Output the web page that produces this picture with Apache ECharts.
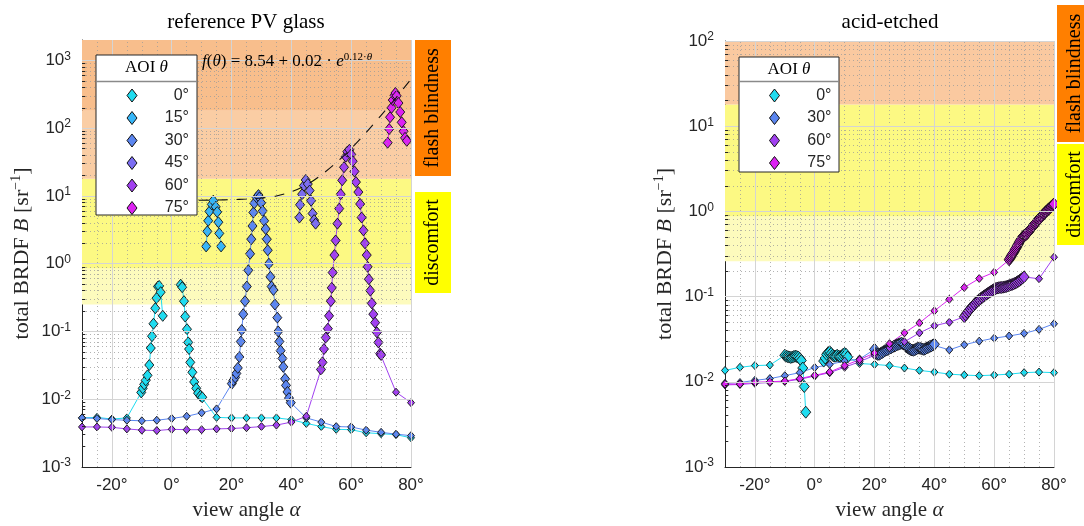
<!DOCTYPE html>
<html>
<head>
<meta charset="utf-8">
<script src="https://cdn.jsdelivr.net/npm/echarts@6/dist/echarts.min.js"></script>
<style>
  html, body { margin: 0; padding: 0; background: #fff; }
  #chart { width: 1084px; height: 526px; }
</style>
</head>
<body>
<div id="chart"></div>
<script>
// ---------------------------------------------------------------------------
// Total BRDF B [1/sr] versus view angle alpha [deg], per angle of incidence.
// "Coarse" = 5-degree survey scan, "Fine" = dense scan around the specular peak.
// A null value marks the blocked region around the source direction.
// ---------------------------------------------------------------------------

// ---- reference PV glass ----
const ref0Coarse = [[-30,5.3e-3],[-25,5.4e-3],[-20,5.1e-3],[-15,5.3e-3],[0,null],[15,5.4e-3],[20,5.3e-3],[25,5.3e-3],[30,5.3e-3],[35,5.3e-3],[40,5.0e-3],[45,4.4e-3],[50,3.95e-3],[55,3.6e-3],[60,3.55e-3],[65,3.2e-3],[70,3.1e-3],[75,3.0e-3],[80,2.7e-3]];
const ref0Fine = [[-10.2,0.0126],[-9.7,0.0145],[-9.2,0.0166],[-8.7,0.019],[-8.1,0.0225],[-7.5,0.032],[-7.0,0.057],[-6.6,0.085],[-6.1,0.13],[-5.5,0.22],[-5.1,0.31],[-4.6,0.46],[-4.2,0.47],[-3.7,0.38],[-3.0,0.17],
                  [3.0,0.49],[3.5,0.45],[4.1,0.28],[4.5,0.166],[5.1,0.108],[5.5,0.069],[5.8,0.055],[6.2,0.035],[6.9,0.025],[7.5,0.018],[8.2,0.0145],[8.8,0.0123],[9.6,0.0112],[10.2,0.0107]];
const ref15Coarse = [];
const ref15Fine = [[11.5,1.8],[11.9,3.0],[12.2,4.3],[12.6,5.9],[13.4,7.5],[13.9,8.5],[14.7,6.9],[15.2,5.8],[15.6,4.1],[15.9,2.8],[16.5,1.8]];
const ref30Coarse = [[-30,5.3e-3],[-25,5.2e-3],[-20,5.0e-3],[-15,4.9e-3],[-10,4.8e-3],[-5,4.9e-3],[0,5.2e-3],[5,5.6e-3],[10,6.3e-3],[15,7.2e-3],[45,5.3e-3],[50,4.6e-3],[55,3.95e-3],[60,3.9e-3],[65,3.5e-3],[70,3.25e-3],[75,3.05e-3],[80,2.9e-3]];
const ref30Fine = [[20.1,0.017],[20.6,0.019],[21.2,0.021],[21.6,0.024],[22.1,0.029],[22.6,0.042],[23.1,0.071],[23.4,0.105],[23.9,0.18],[24.5,0.28],[25.1,0.46],[25.6,0.8],[26.2,1.4],[26.6,2.3],[27.0,3.6],[27.3,5.7],[27.6,7.8],[28.4,9.5],[29.0,10.3],
                   [29.3,9.5],[29.9,7.9],[30.4,6.0],[30.9,4.3],[31.4,3.25],[31.8,2.3],[32.1,1.58],[32.5,1.0],[33.0,0.64],[33.4,0.46],[34.0,0.41],[34.5,0.25],[35.3,0.16],[35.6,0.10],[36.0,0.071],[36.4,0.052],[37.0,0.04],[37.3,0.030],[37.9,0.020],[38.2,0.016],[38.7,0.0128],[39.2,0.0104],[39.8,0.0089]];
const ref45Coarse = [];
const ref45Fine = [[42.7,4.8],[42.9,7.4],[43.6,10.6],[44.2,14.2],[44.8,17.2],[45.5,15.0],[46.1,12.0],[46.6,8.5],[47.1,5.5],[47.6,4.4],[48.1,3.9]];
const ref60Coarse = [[-30,3.9e-3],[-25,3.9e-3],[-20,3.85e-3],[-15,3.65e-3],[-10,3.5e-3],[-5,3.45e-3],[0,3.6e-3],[5,3.55e-3],[10,3.55e-3],[15,3.65e-3],[20,3.7e-3],[25,3.8e-3],[30,3.95e-3],[35,4.15e-3],[40,4.6e-3],[45,5.6e-3],[75,0.0127],[80,0.0089]];
const ref60Fine = [[49.9,0.0275],[50.4,0.035],[50.9,0.055],[51.5,0.081],[52.2,0.11],[52.6,0.17],[53.2,0.28],[53.5,0.44],[53.8,0.74],[54.4,1.34],[54.8,2.2],[55.4,3.9],[56.0,6.5],[56.5,10.6],[57.0,17],[57.6,26.5],[58.2,38],[58.7,45],[59.4,48],
                   [60.0,41],[60.5,32.5],[61.1,23],[61.6,16],[62.4,11.4],[63.0,7.6],[63.5,4.8],[64.1,3.1],[64.6,2.0],[65.2,1.34],[65.5,0.90],[65.9,0.59],[66.4,0.40],[66.9,0.26],[67.4,0.18],[68.0,0.135],[68.6,0.097],[69.1,0.069],[69.7,0.047],[70.0,0.045]];
const ref75Coarse = [];
const ref75Fine = [[72.2,61],[72.7,97],[73.0,145],[73.5,200],[73.9,260],[74.5,305],[74.8,330],[75.2,300],[75.8,235],[76.4,173],[76.9,122],[77.5,90],[78.0,72],[78.6,65]];

// peak-value fit f(theta) = 8.54 + 0.02 * exp(0.12 * theta), as drawn
const fitAngles = [9, 15, 20, 25, 30, 35, 40, 45, 50, 55, 60, 65, 70, 75, 80];
const fitValues = [8.65, 8.7, 8.8, 9.0, 9.3, 10.0, 11.5, 14.5, 20.4, 31, 50, 86, 155, 280, 530];

// ---- acid-etched glass ----
const ae0Coarse = [[-30,0.0136],[-25,0.0148],[-20,0.0155],[-15,0.0157],[0,null],[15,0.0164],[20,0.016],[25,0.0155],[30,0.0145],[35,0.0136],[40,0.013],[45,0.0123],[50,0.012],[55,0.0118],[60,0.012],[65,0.0123],[70,0.0128],[75,0.013],[80,0.0128]];
const ae0Fine = [[-10,0.0205],[-9.5,0.02],[-9,0.0197],[-8.5,0.0195],[-8,0.0193],[-7.5,0.0195],[-7,0.0198],[-6.5,0.02],[-6,0.0198],[-5.5,0.0195],[-5,0.0188],[-4.5,0.0178],[-4,0.0145],[-3.5,0.0088],[-3,0.0044],
                 [3,0.0175],[3.5,0.019],[4,0.021],[4.5,0.022],[5,0.0225],[5.5,0.0215],[6,0.0205],[6.5,0.02],[7,0.02],[7.5,0.0205],[8,0.02],[8.5,0.0198],[9,0.0202],[9.5,0.021],[10,0.0215],[10.5,0.021],[11,0.0195]];
const ae30Coarse = [[-30,0.0096],[-25,0.0098],[-20,0.0104],[-15,0.0109],[-10,0.0118],[-5,0.0128],[0,0.0147],[5,0.016],[10,0.0175],[15,0.0185],[45,0.0237],[50,0.0272],[55,0.030],[60,0.0325],[65,0.0345],[70,0.037],[75,0.0412],[80,0.048]];
const ae30Fine = [[20,0.024],[20.5,0.0215],[21,0.021],[21.5,0.021],[22,0.0215],[22.5,0.022],[23,0.0226],[23.5,0.0232],[24,0.0236],[24.5,0.024],[25,0.0246],[25.5,0.025],[26,0.0256],[26.5,0.0262],[27,0.0266],[27.5,0.0272],[28,0.0276],[28.5,0.028],[29,0.0284],[29.5,0.028],
                  [30,0.0274],[30.5,0.026],[31,0.0252],[31.5,0.0246],[32,0.024],[32.5,0.0236],[33,0.0234],[33.5,0.0238],[34,0.0244],[34.5,0.0248],[35,0.025],[35.5,0.0246],[36,0.0242],[36.5,0.024],[37,0.0244],[37.5,0.025],[38,0.0254],[38.5,0.026],[39,0.0264],[39.5,0.027],[40,0.0276]];
const ae60Coarse = [[-30,0.0092],[-25,0.0093],[-20,0.0096],[-15,0.0098],[-10,0.0101],[-5,0.0107],[0,0.0117],[5,0.0128],[10,0.0148],[15,0.0172],[20,0.0205],[25,0.025],[30,0.0295],[35,0.0375],[40,0.0455],[45,0.050],[75,0.162],[80,0.29]];
const ae60Fine = [[50,0.058],[50.5,0.061],[51,0.065],[51.5,0.068],[52,0.072],[52.5,0.075],[53,0.078],[53.5,0.082],[54,0.086],[54.5,0.089],[55,0.092],[55.5,0.095],[56,0.098],[56.5,0.101],[57,0.104],[57.5,0.107],[58,0.110],[58.5,0.113],[59,0.116],[59.5,0.119],
                  [60,0.122],[60.5,0.124],[61,0.126],[61.5,0.127],[62,0.128],[62.5,0.128],[63,0.129],[63.5,0.130],[64,0.131],[64.5,0.133],[65,0.135],[65.5,0.137],[66,0.139],[66.5,0.141],[67,0.144],[67.5,0.147],[68,0.151],[68.5,0.155],[69,0.160],[69.5,0.165],[70,0.170]];
const ae75Coarse = [[-30,0.0094],[-25,0.0094],[-20,0.0099],[-15,0.0100],[-10,0.0102],[-5,0.0109],[0,0.0119],[5,0.0130],[10,0.0155],[15,0.0182],[20,0.0218],[25,0.028],[30,0.0375],[35,0.049],[40,0.068],[45,0.093],[50,0.128],[55,0.163],[60,0.193]];
const ae75Fine = [[65,0.27],[65.25,0.28],[65.5,0.29],[65.75,0.30],[66,0.31],[66.25,0.32],[66.5,0.33],[66.75,0.342],[67,0.355],[67.25,0.367],[67.5,0.38],[67.75,0.395],[68,0.41],[68.25,0.425],[68.5,0.44],[68.75,0.455],
                  [69,0.47],[69.25,0.485],[69.5,0.50],[69.75,0.512],[70,0.52],[70.25,0.525],[70.5,0.53],[70.75,0.54],[71,0.55],[71.25,0.565],[71.5,0.58],[71.75,0.595],[72,0.61],[72.25,0.625],[72.5,0.64],[72.75,0.655],
                  [73,0.67],[73.25,0.69],[73.5,0.71],[73.75,0.725],[74,0.74],[74.25,0.76],[74.5,0.78],[74.75,0.795],[75,0.81],[75.25,0.83],[75.5,0.85],[75.75,0.87],[76,0.89],[76.25,0.91],[76.5,0.93],[76.75,0.95],
                  [77,0.97],[77.25,0.99],[77.5,1.01],[77.75,1.03],[78,1.05],[78.25,1.07],[78.5,1.09],[78.75,1.11],[79,1.13],[79.25,1.155],[79.5,1.18],[79.75,1.2],[80,1.22]];

// glare hazard zones (B thresholds, 1/sr)
const refZones = [[0.25, 0.85], [0.85, 18], [18, 180], [180, 2000]];
const aeZones = [[0.26, 0.87], [0.87, 18], [18, 100]];

const refLegend = ['0°', '15°', '30°', '45°', '60°', '75°'];
const aeLegend = ['0°', '30°', '60°', '75°'];

// ---------------------------------------------------------------------------
const SERIF = '"Liberation Serif", "DejaVu Serif", serif';
const SANS = '"Liberation Sans", Arial, sans-serif';
const INK = '#262626';
const AOI_COLOR = { '0°': '#1fdcf0', '15°': '#36b6f8', '30°': '#5b86f0', '45°': '#7b6df2', '60°': '#a140f0', '75°': '#dc22f2' };
const ZONE_COLORS_REF = ['#fdfbbd', '#fcf983', '#facda4', '#f8be8c'];
const ZONE_COLORS_AE = ['#fdfbbd', '#fcf983', '#fac9a0'];

const chart = echarts.init(document.getElementById('chart'));

function scanSeries(name, coarse, fine, gi, fineSize, coarseSize) {
  const pts = coarse.map(p => ({ a: p[0], v: p[1], f: false }))
    .concat(fine.map(p => ({ a: p[0], v: p[1], f: true })))
    .sort((p, q) => p.a - q.a);
  const c = AOI_COLOR[name];
  return {
    type: 'line', name, xAxisIndex: gi, yAxisIndex: gi,
    data: pts.map(p => ({ value: [p.a, p.v == null ? '-' : p.v], symbolSize: p.f ? fineSize : coarseSize })),
    symbol: 'diamond', color: c,
    itemStyle: { color: c, borderColor: '#111', borderWidth: 0.9 },
    lineStyle: { color: c, width: 1 },
    emphasis: { disabled: true }, silent: true, animation: false, z: 3
  };
}

function powLabel(v) {
  const lg = Math.log10(v);
  if (Math.abs(lg - Math.round(lg)) > 1e-6) return '';
  return '{b|10}{s|' + Math.round(lg) + '}';
}

function xAxisFor(gi) {
  return {
    type: 'value', gridIndex: gi, min: -30, max: 80, interval: 10,
    axisLine: { show: true, onZero: false, lineStyle: { color: INK, width: 1 } },
    axisTick: { show: false }, splitLine: { show: false },
    axisLabel: { formatter: v => (v % 20 === 0 ? v + '°' : ''), color: INK, fontFamily: SANS, fontSize: 17, margin: 10 },
    name: '{n|view angle }{i|α}', nameLocation: 'middle', nameGap: 33,
    nameTextStyle: { rich: {
      n: { fontFamily: SERIF, fontSize: 21, color: INK },
      i: { fontFamily: SERIF, fontSize: 21, fontStyle: 'italic', color: INK }
    } }
  };
}

function yAxisFor(gi, max) {
  return {
    type: 'log', logBase: 10, gridIndex: gi, min: 1e-3, max,
    axisLine: { show: true, onZero: false, lineStyle: { color: INK, width: 1 } },
    axisTick: { show: true, inside: true, length: 5, lineStyle: { color: INK } },
    splitLine: { show: false },
    axisLabel: {
      formatter: powLabel, margin: 11,
      rich: {
        b: { fontFamily: SANS, fontSize: 17, color: INK, lineHeight: 20 },
        s: { fontFamily: SANS, fontSize: 12, color: INK, lineHeight: 12, verticalAlign: 'top' }
      }
    },
    name: '{n|total BRDF }{i|B}{n| [sr}{s|−1}{n|]}', nameLocation: 'middle', nameGap: 47, nameRotate: 90,
    nameTextStyle: { rich: {
      n: { fontFamily: SERIF, fontSize: 22, color: INK, lineHeight: 26 },
      i: { fontFamily: SERIF, fontSize: 22, fontStyle: 'italic', color: INK, lineHeight: 26 },
      s: { fontFamily: SERIF, fontSize: 14, color: INK, lineHeight: 14, verticalAlign: 'top' }
    } }
  };
}

// background zones, grid lines and minor ticks, all placed through the axes
function decorSeries(gi, zones, colors, maxExp, yMax) {
  const majorX = [-20, 0, 20, 40, 60, 80];
  const minorX = [];
  for (let a = -25; a < 80; a += 5) if (a % 20 !== 0) minorX.push(a);
  const majorY = [], minorY = [];
  for (let e = -3; e <= maxExp; e++) {
    if (e > -3) majorY.push(Math.pow(10, e));
    for (let k = 2; k <= 9; k++) {
      const v = k * Math.pow(10, e);
      if (v < yMax * 0.999) minorY.push(v);
    }
  }
  const base = { type: 'line', xAxisIndex: gi, yAxisIndex: gi, data: [], silent: true, animation: false };
  const lineCommon = { silent: true, symbol: 'none', label: { show: false }, animation: false, emphasis: { disabled: true } };
  return [
    Object.assign({}, base, { name: 'zones' + gi, z: 1,
      markArea: { silent: true, animation: false, emphasis: { disabled: true },
        data: zones.map((z, i) => [{ yAxis: z[0], itemStyle: { color: colors[i] } }, { yAxis: z[1] }]) } }),
    Object.assign({}, base, { name: 'minor' + gi, z: 2,
      markLine: Object.assign({}, lineCommon, {
        lineStyle: { color: '#9a9a9a', width: 1, type: [1, 3], opacity: 0.75 },
        data: minorX.map(a => ({ xAxis: a })).concat(minorY.map(v => ({ yAxis: v }))) }) }),
    Object.assign({}, base, { name: 'major' + gi, z: 2,
      markLine: Object.assign({}, lineCommon, {
        lineStyle: { color: '#d4d4d4', width: 1, type: 'solid' },
        data: majorX.map(a => ({ xAxis: a })).concat(majorY.map(v => ({ yAxis: v }))) }) }),
    Object.assign({}, base, { name: 'ticks' + gi, z: 4,
      markLine: Object.assign({}, lineCommon, {
        lineStyle: { color: INK, width: 1, type: 'solid' },
        data: minorY.map(v => [{ coord: [-30, v] }, { coord: [-28.9, v] }]) }) })
  ];
}

function legendFor(left, top, names) {
  return {
    show: true, orient: 'vertical', left, top, padding: 0, data: names,
    icon: 'diamond', itemWidth: 10, itemHeight: 13, itemGap: 6.5,
    selectedMode: false, z: 10,
    itemStyle: { borderColor: '#111', borderWidth: 1 },
    formatter: n => '{t|' + n + '}',
    textStyle: { rich: { t: { width: 47, align: 'right', fontFamily: SANS, fontSize: 16, color: INK, lineHeight: 13 } } }
  };
}

function legendBox(x, y, w, h, headY, sepY) {
  return [
    { type: 'rect', z: 8, shape: { x, y, width: w, height: h }, style: { fill: '#fff', stroke: INK, lineWidth: 1 } },
    { type: 'line', z: 9, shape: { x1: x, y1: sepY, x2: x + w, y2: sepY }, style: { stroke: '#8a8a8a', lineWidth: 1.5 } },
    { type: 'text', z: 9, x: x + w / 2, y: headY, style: {
      text: '{n|AOI }{i|θ}', align: 'center', verticalAlign: 'middle',
      rich: { n: { fontFamily: SERIF, fontSize: 17, fill: '#000' }, i: { fontFamily: SERIF, fontSize: 17, fontStyle: 'italic', fill: '#000' } } } }
  ];
}

function sideTag(x, y, w, h, fill, label) {
  return [
    { type: 'rect', z: 8, shape: { x, y, width: w, height: h }, style: { fill } },
    { type: 'text', z: 9, x: x + w / 2, y: y + h / 2, rotation: Math.PI / 2, style: {
      text: label, align: 'center', verticalAlign: 'middle', fill: '#000', font: '20px ' + SERIF } }
  ];
}

function title(x, y, text) {
  return { type: 'text', z: 9, x, y, style: { text, align: 'center', verticalAlign: 'middle', fill: '#000', font: '21px ' + SERIF } };
}

const series = [].concat(
  decorSeries(0, refZones, ZONE_COLORS_REF, 3, 2000),
  decorSeries(1, aeZones, ZONE_COLORS_AE, 2, 100),
  [
    scanSeries('0°', ref0Coarse, ref0Fine, 0, [9, 11], [7, 8]),
    scanSeries('15°', ref15Coarse, ref15Fine, 0, [9, 11], [7, 8]),
    scanSeries('30°', ref30Coarse, ref30Fine, 0, [9, 11], [7, 8]),
    scanSeries('45°', ref45Coarse, ref45Fine, 0, [9, 11], [7, 8]),
    scanSeries('60°', ref60Coarse, ref60Fine, 0, [9, 11], [7, 8]),
    scanSeries('75°', ref75Coarse, ref75Fine, 0, [9, 11], [7, 8]),
    {
      type: 'line', name: 'fit', xAxisIndex: 0, yAxisIndex: 0, z: 5,
      data: fitAngles.map((a, i) => [a, fitValues[i]]),
      smooth: 0.3, showSymbol: false, symbol: 'none',
      lineStyle: { color: '#111', width: 1.1, type: [10, 9] },
      silent: true, animation: false
    },
    scanSeries('0°', ae0Coarse, ae0Fine, 1, [10, 12], [7, 8]),
    scanSeries('30°', ae30Coarse, ae30Fine, 1, [10, 12], [7, 8]),
    scanSeries('60°', ae60Coarse, ae60Fine, 1, [10, 12], [7, 8]),
    scanSeries('75°', ae75Coarse, ae75Fine, 1, [10, 12], [7, 8])
  ]
);

chart.setOption({
  animation: false,
  backgroundColor: '#fff',
  grid: [
    { left: 82, top: 40, width: 329, height: 433 },
    { left: 725, top: 41, width: 329, height: 432 }
  ],
  xAxis: [xAxisFor(0), xAxisFor(1)],
  yAxis: [yAxisFor(0, 2000), yAxisFor(1, 100)],
  legend: [legendFor(126.5, 87.5, refLegend), legendFor(769, 87.5, aeLegend)],
  graphic: [].concat(
    [title(246, 22, 'reference PV glass'), title(890, 22, 'acid-etched')],
    legendBox(96, 55, 101, 160, 68, 81.5),
    legendBox(739, 57, 100, 115, 70, 81.5),
    sideTag(415, 40, 36, 136, '#ff7f00', 'flash blindness'),
    sideTag(415, 192, 36, 101, '#ffff00', 'discomfort'),
    sideTag(1057, 5, 36, 137, '#ff7f00', 'flash blindness'),
    sideTag(1057, 144, 36, 101, '#ffff00', 'discomfort'),
    [{ type: 'text', z: 6, x: 202, y: 62, style: {
      text: '{i|f}{n|(}{i|θ}{n|) = 8.54 + 0.02 · }{i|e}{s|0.12·}{si|θ}', verticalAlign: 'middle',
      rich: {
        n: { fontFamily: SERIF, fontSize: 17, fill: '#000', lineHeight: 20 },
        i: { fontFamily: SERIF, fontSize: 17, fontStyle: 'italic', fill: '#000', lineHeight: 20 },
        s: { fontFamily: SERIF, fontSize: 11, fill: '#000', lineHeight: 11, verticalAlign: 'top' },
        si: { fontFamily: SERIF, fontSize: 11, fontStyle: 'italic', fill: '#000', lineHeight: 11, verticalAlign: 'top' }
      } } }]
  ),
  series
});
</script>
</body>
</html>
